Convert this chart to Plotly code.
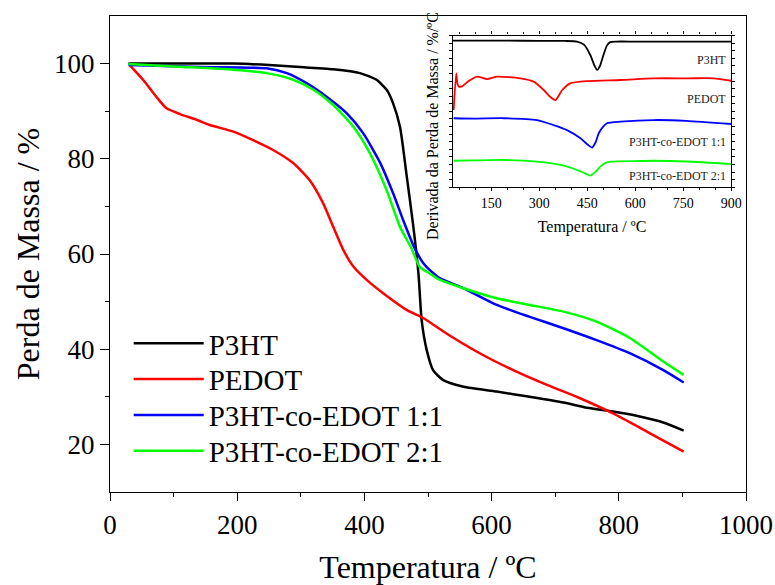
import plotly.graph_objects as go

# ---- main TGA data (Temperatura / ºC vs Perda de Massa / %) ----
series_names = ["P3HT", "PEDOT", "P3HT-co-EDOT 1:1", "P3HT-co-EDOT 2:1"]
series_colors = ["#000000", "#ff0000", "#0000ff", "#00ff00"]

p3ht_T = [29, 100, 194, 250, 299, 351, 393, 419, 435, 445, 456, 466, 477, 485, 490, 498, 508, 524, 556, 608, 660, 713, 750, 791, 828, 870, 902]
p3ht_m = [100, 100, 100.0, 99.7, 99.3, 98.8, 98.0, 96.6, 94.5, 91.7, 86.7, 76.9, 65.7, 55.9, 46.1, 39.8, 35.6, 33.5, 32.1, 31.1, 30.0, 28.8, 27.7, 26.9, 26.0, 24.6, 22.9]

pedot_T = [31, 52, 73, 89, 110, 136, 157, 194, 225, 257, 288, 314, 335, 351, 367, 383, 404, 430, 467, 493, 529, 582, 634, 687, 739, 791, 844, 902]
pedot_m = [99.7, 96.6, 93.0, 90.6, 89.4, 88.2, 87.1, 85.7, 83.9, 81.8, 79.1, 75.5, 70.7, 65.7, 60.8, 57.3, 54.5, 51.7, 48.2, 46.5, 43.3, 39.1, 35.6, 32.5, 29.7, 26.5, 22.7, 18.5]

co11_T = [29, 142, 246, 278, 309, 341, 372, 398, 425, 445, 461, 478, 493, 503, 519, 556, 608, 660, 713, 765, 818, 870, 902]
co11_m = [99.7, 99.3, 99.0, 98.0, 95.9, 93.0, 89.6, 85.4, 79.1, 72.8, 67.1, 61.5, 58.0, 56.6, 54.9, 52.8, 49.3, 46.8, 44.4, 41.9, 39.1, 35.6, 33.0]

co21_T = [29, 115, 194, 246, 288, 320, 351, 383, 409, 435, 456, 474, 487, 503, 514, 556, 608, 660, 713, 765, 818, 870, 902]
co21_m = [99.9, 99.3, 98.7, 98.0, 96.6, 94.5, 91.3, 86.7, 81.1, 73.4, 65.7, 61.2, 57.3, 55.9, 54.9, 52.8, 50.7, 49.3, 47.9, 45.8, 42.3, 37.4, 34.6]

# ---- inset DTG data (offset curves, arbitrary units) ----
dtg_p3ht_T = [31, 100, 200, 300, 380, 418, 440, 460, 472, 481, 490, 502, 512, 522, 540, 600, 700, 800, 900]
dtg_p3ht_v = [96.6, 96.6, 96.6, 96.5, 96.4, 96.0, 94.0, 87.0, 80.5, 77.3, 80.0, 88.0, 93.5, 95.6, 96.0, 96.0, 96.0, 96.0, 95.9]

dtg_pedot_T = [33, 41, 45, 49, 59, 80, 106, 137, 169, 241, 283, 314, 335, 351, 372, 397, 450, 554, 657, 762, 845, 900]
dtg_pedot_v = [50.9, 75.1, 68.0, 66.3, 66.5, 70.0, 72.9, 71.3, 72.9, 71.8, 69.6, 64.1, 59.5, 57.5, 64.1, 68.5, 70.0, 70.7, 71.8, 71.8, 71.8, 70.2]

dtg_co11_T = [33, 100, 189, 293, 345, 387, 429, 452, 465, 476, 486, 500, 512, 554, 657, 760, 900]
dtg_co11_v = [45.5, 45.3, 45.5, 44.3, 41.0, 37.7, 32.3, 28.0, 26.1, 29.5, 35.6, 40.0, 42.2, 43.2, 44.3, 43.8, 41.7]

dtg_co21_T = [33, 100, 189, 293, 367, 418, 445, 460, 475, 491, 505, 522, 600, 657, 760, 900]
dtg_co21_v = [17.5, 17.7, 18.0, 16.9, 14.7, 11.4, 9.0, 7.7, 10.0, 13.6, 15.8, 16.9, 17.3, 17.5, 17.0, 15.3]

inset_labels = ["P3HT", "PEDOT", "P3HT-co-EDOT 1:1", "P3HT-co-EDOT 2:1"]
inset_label_y = [83.9, 58.4, 29.8, 7.4]

FONT = "Liberation Serif, serif"

# plot-area geometry (pixels) used to place legends/annotations in paper coords
L, R, T, B = 110, 746, 16, 492
def py2paper(py):
    return (B - py) / (B - T)

legend_ids = ["legend", "legend2", "legend3", "legend4"]
legend_row_px = [346, 381.7, 417.7, 453.3]

fig = go.Figure()
main = [(p3ht_T, p3ht_m), (pedot_T, pedot_m), (co11_T, co11_m), (co21_T, co21_m)]
for (t, m), name, col, lid in zip(main, series_names, series_colors, legend_ids):
    fig.add_trace(go.Scatter(x=t, y=m, name=name, mode="lines", legend=lid,
                             line=dict(color=col, width=2.5, shape="spline", smoothing=0.6),
                             xaxis="x", yaxis="y"))

inset = [(dtg_p3ht_T, dtg_p3ht_v), (dtg_pedot_T, dtg_pedot_v), (dtg_co11_T, dtg_co11_v), (dtg_co21_T, dtg_co21_v)]
for (t, v), name, col in zip(inset, series_names, series_colors):
    fig.add_trace(go.Scatter(x=t, y=v, name=name, mode="lines", showlegend=False,
                             line=dict(color=col, width=1.8, shape="spline", smoothing=0.6),
                             xaxis="x2", yaxis="y2"))

for lab, ly in zip(inset_labels, inset_label_y):
    fig.add_annotation(x=890, y=ly, xref="x2", yref="y2", text=lab, showarrow=False,
                       xanchor="right", yanchor="middle",
                       font=dict(family=FONT, size=12, color="#222"))

# inset y-axis title
fig.add_annotation(x=(433 - L) / (R - L), y=py2paper(126), xref="paper", yref="paper",
                   text="Derivada da Perda de Massa / %/ºC", textangle=-90, showarrow=False,
                   xanchor="center", yanchor="middle",
                   font=dict(family=FONT, size=16, color="black"))

legend_style = dict(xanchor="left", yanchor="top", x=0.0294,
                    font=dict(family=FONT, size=29, color="black"),
                    bgcolor="rgba(0,0,0,0)", itemwidth=70)
legends = {lid: dict(legend_style, y=py2paper(rp - 28)) for lid, rp in zip(legend_ids, legend_row_px)}

fig.update_layout(
    width=775, height=585,
    margin=dict(l=L, r=775 - R, t=T, b=585 - B),
    paper_bgcolor="white", plot_bgcolor="rgba(0,0,0,0)",
    font=dict(family=FONT, color="black"),
    showlegend=True,
    **legends,
    xaxis=dict(domain=[0, 1], range=[0, 1000], tickvals=[0, 200, 400, 600, 800, 1000],
               automargin=False,
               ticks="outside", ticklen=8, tickwidth=1.3, tickcolor="black",
               minor=dict(tickvals=[100, 300, 500, 700, 900], ticks="outside", ticklen=4, tickcolor="black", tickwidth=1.3),
               showline=True, linecolor="black", linewidth=1.3, mirror=True,
               showgrid=False, zeroline=False,
               tickfont=dict(family=FONT, size=27),
               title=dict(text="Temperatura / ºC", font=dict(family=FONT, size=32), standoff=21)),
    yaxis=dict(domain=[0, 1], range=[10, 110], tickvals=[20, 40, 60, 80, 100],
               automargin=False,
               ticks="outside", ticklen=9, tickwidth=1.3, tickcolor="black",
               minor=dict(tickvals=[30, 50, 70, 90], ticks="outside", ticklen=4, tickcolor="black", tickwidth=1.3),
               showline=True, linecolor="black", linewidth=1.3, mirror=True,
               showgrid=False, zeroline=False,
               tickfont=dict(family=FONT, size=27),
               title=dict(text="Perda de Massa / %", font=dict(family=FONT, size=32), standoff=4)),
    xaxis2=dict(domain=[(452.7 - L) / (R - L), (731.3 - L) / (R - L)], anchor="y2", range=[30, 900],
                automargin=False,
                tickvals=[150, 300, 450, 600, 750, 900],
                ticks="outside", ticklen=3, tickwidth=1, tickcolor="black",
                minor=dict(dtick=50, ticks="outside", ticklen=2, tickcolor="black"),
                showline=True, linecolor="black", linewidth=1.2, mirror="ticks",
                showgrid=False, zeroline=False,
                tickfont=dict(family=FONT, size=14),
                title=dict(text="Temperatura / ºC", font=dict(family=FONT, size=16), standoff=10)),
    yaxis2=dict(domain=[py2paper(187.3), py2paper(35.5)], anchor="x2", range=[0, 100],
                automargin=False,
                showticklabels=False, dtick=5,
                ticks="outside", ticklen=3, tickwidth=1, tickcolor="black",
                showline=True, linecolor="black", linewidth=1.2, mirror="ticks",
                showgrid=False, zeroline=False),
)

fig.write_html("out.html")
